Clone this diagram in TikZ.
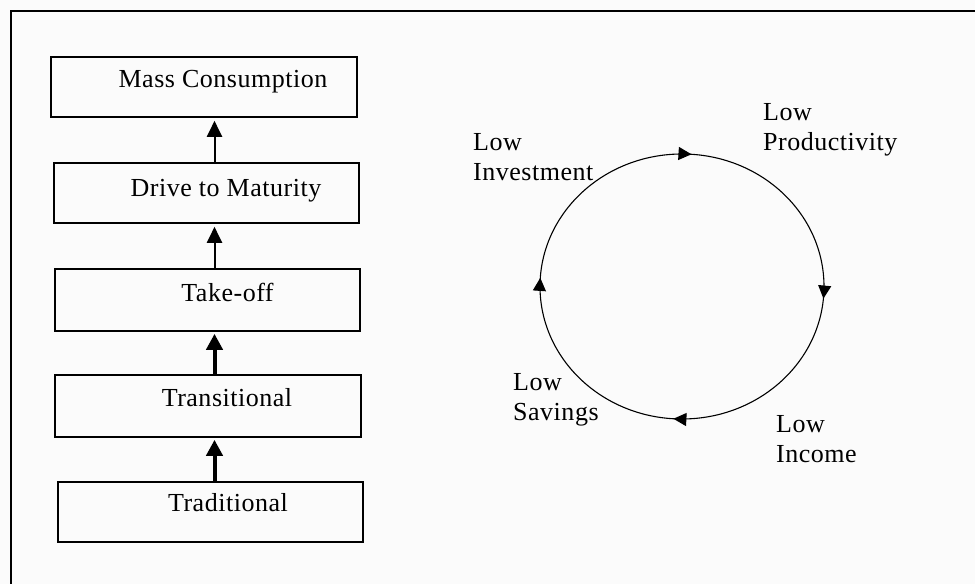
\documentclass[tikz,border=0pt]{standalone}
\usepackage{fontspec}
\setmainfont{Liberation Serif}[LetterSpace=2]
\usetikzlibrary{arrows.meta,decorations.markings}
\definecolor{pagebg}{RGB}{251,251,251}
\tikzset{
  stagebox/.style={draw=black, line width=1.6pt, minimum height=60pt, inner sep=0pt},
  stagetext/.style={font=\fontsize{26}{30}\selectfont, inner sep=0pt, anchor=base},
  thinup/.style={line width=2pt, -{Triangle[length=16pt,width=15pt]}, shorten >=3pt},
  thickup/.style={line width=4pt, -{Triangle[length=16pt,width=16pt]}, shorten >=2pt},
  cyclelabel/.style={font=\fontsize{26}{30}\selectfont, align=left, anchor=north west, inner sep=0pt},
  cycletip/.style={},
  cycleline/.style={line width=1.1pt, postaction={decorate}, decoration={markings,
      mark=at position 0.239 with {\arrowreversed{Triangle[length=13pt,width=13pt]}},
      mark=at position 0.490 with {\arrowreversed{Triangle[length=13pt,width=13pt]}},
      mark=at position 0.740 with {\arrowreversed{Triangle[length=13pt,width=13pt]}},
      mark=at position 0.986 with {\arrowreversed{Triangle[length=13pt,width=13pt]}}}},
  frameline/.style={line width=1.5pt}
}
\begin{document}
\begin{tikzpicture}[x=1pt,y=1pt]
  % page
  \fill[pagebg] (0,0) rectangle (975,584);
  \useasboundingbox (0,0) rectangle (975,584);
  \coordinate (fc) at (11,573);
  \coordinate (fr) at (975,573);
  \coordinate (fb) at (11,0);
  \draw[frameline] (fr) -- (fc) -- (fb);

  % stages of growth
  \node[stagebox, minimum width=306pt] (mass)  at (204,497) {};
  \node[stagebox, minimum width=305pt] (drive) at (206.5,391) {};
  \node[stagebox, minimum width=305pt, minimum height=62pt] (take)  at (207.5,284) {};
  \node[stagebox, minimum width=306pt, minimum height=62pt] (trans) at (208,178) {};
  \node[stagebox, minimum width=305pt] (trad)  at (210.5,72) {};

  \node[stagetext] (massT)  at ([xshift=19pt,yshift=-1pt]mass.center)  {Mass Consumption};
  \node[stagetext] (driveT) at ([xshift=19.5pt,yshift=-4pt]drive.center) {Drive to Maturity};
  \node[stagetext] (takeT)  at ([xshift=20pt,yshift=-2pt]take.center)  {Take-off};
  \node[stagetext] (transT) at ([xshift=19pt,yshift=-1pt]trans.center) {Transitional};
  \node[stagetext] (tradT)  at ([xshift=17.5pt,yshift=0pt]trad.center)  {Traditional};

  \coordinate (ax) at (214.5,0);
  \draw[thinup]  (drive.north -| ax) -- (mass.south -| ax);
  \draw[thinup]  (take.north -| ax)  -- (drive.south -| ax);
  \draw[thickup] (trans.north -| ax) -- (take.south -| ax);
  \draw[thickup] (trad.north -| ax)  -- (trans.south -| ax);

  % vicious circle of poverty
  \coordinate (cc) at (682,297.5);
  \draw[cycleline] (cc) ellipse [x radius=142, y radius=132.5];

  \node[cyclelabel] (prod) at (763,481.2) {Low\\Productivity};
  \node[cyclelabel] (inv)  at (473,451.2) {Low\\Investment};
  \node[cyclelabel] (sav)  at (513,211.2) {Low\\Savings};
  \node[cyclelabel] (inc)  at (776,169.2) {Low\\Income};
\end{tikzpicture}
\end{document}
